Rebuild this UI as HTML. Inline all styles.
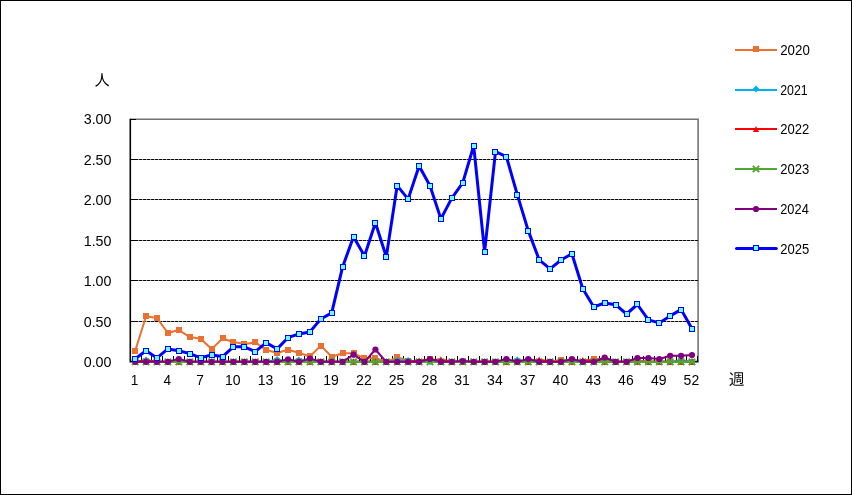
<!DOCTYPE html>
<html lang="ja"><head><meta charset="utf-8"><title>chart</title>
<style>
html,body{margin:0;padding:0;background:#fff;}
body{width:852px;height:495px;overflow:hidden;}
svg{display:block;}
.t{font-family:"Liberation Sans","IPAGothic",sans-serif;font-size:14.7px;fill:#000;}
.j{font-family:"Liberation Sans","IPAGothic",sans-serif;font-size:16px;fill:#000;}
</style></head><body>
<svg width="852" height="495" viewBox="0 0 852 495">
<rect x="0.5" y="0.5" width="851" height="494" fill="#fff" stroke="#000" stroke-width="1"/>
<path d="M130.3 119.15 H698.1 V361.6" fill="none" stroke="#717171" stroke-width="1.55"/>
<line x1="136.1" x2="697.9" y1="321.50" y2="321.50" stroke="#000" stroke-width="1" stroke-opacity="0.35"/>
<line x1="135.1" x2="697.9" y1="321.50" y2="321.50" stroke="#000" stroke-width="1" stroke-dasharray="3 1"/>
<line x1="136.1" x2="697.9" y1="280.50" y2="280.50" stroke="#000" stroke-width="1" stroke-opacity="0.35"/>
<line x1="135.1" x2="697.9" y1="280.50" y2="280.50" stroke="#000" stroke-width="1" stroke-dasharray="3 1"/>
<line x1="136.1" x2="697.9" y1="240.50" y2="240.50" stroke="#000" stroke-width="1" stroke-opacity="0.35"/>
<line x1="135.1" x2="697.9" y1="240.50" y2="240.50" stroke="#000" stroke-width="1" stroke-dasharray="3 1"/>
<line x1="136.1" x2="697.9" y1="199.50" y2="199.50" stroke="#000" stroke-width="1" stroke-opacity="0.35"/>
<line x1="135.1" x2="697.9" y1="199.50" y2="199.50" stroke="#000" stroke-width="1" stroke-dasharray="3 1"/>
<line x1="136.1" x2="697.9" y1="159.50" y2="159.50" stroke="#000" stroke-width="1" stroke-opacity="0.35"/>
<line x1="135.1" x2="697.9" y1="159.50" y2="159.50" stroke="#000" stroke-width="1" stroke-dasharray="3 1"/>
<path d="M130.3 118.8 V361.6 H698.6" fill="none" stroke="#000" stroke-width="1.6"/>
<line x1="130.1" x2="136.0" y1="361.50" y2="361.50" stroke="#000" stroke-width="1"/>
<line x1="130.1" x2="136.0" y1="321.50" y2="321.50" stroke="#000" stroke-width="1"/>
<line x1="130.1" x2="136.0" y1="280.50" y2="280.50" stroke="#000" stroke-width="1"/>
<line x1="130.1" x2="136.0" y1="240.50" y2="240.50" stroke="#000" stroke-width="1"/>
<line x1="130.1" x2="136.0" y1="199.50" y2="199.50" stroke="#000" stroke-width="1"/>
<line x1="130.1" x2="136.0" y1="159.50" y2="159.50" stroke="#000" stroke-width="1"/>
<line x1="130.1" x2="136.0" y1="119.50" y2="119.50" stroke="#000" stroke-width="1"/>
<line x1="130.50" x2="130.50" y1="361.5" y2="356" stroke="#000" stroke-width="1"/>
<line x1="141.50" x2="141.50" y1="361.5" y2="356" stroke="#000" stroke-width="1"/>
<line x1="151.50" x2="151.50" y1="361.5" y2="356" stroke="#000" stroke-width="1"/>
<line x1="162.50" x2="162.50" y1="361.5" y2="356" stroke="#000" stroke-width="1"/>
<line x1="173.50" x2="173.50" y1="361.5" y2="356" stroke="#000" stroke-width="1"/>
<line x1="184.50" x2="184.50" y1="361.5" y2="356" stroke="#000" stroke-width="1"/>
<line x1="195.50" x2="195.50" y1="361.5" y2="356" stroke="#000" stroke-width="1"/>
<line x1="206.50" x2="206.50" y1="361.5" y2="356" stroke="#000" stroke-width="1"/>
<line x1="217.50" x2="217.50" y1="361.5" y2="356" stroke="#000" stroke-width="1"/>
<line x1="228.50" x2="228.50" y1="361.5" y2="356" stroke="#000" stroke-width="1"/>
<line x1="239.50" x2="239.50" y1="361.5" y2="356" stroke="#000" stroke-width="1"/>
<line x1="250.50" x2="250.50" y1="361.5" y2="356" stroke="#000" stroke-width="1"/>
<line x1="261.50" x2="261.50" y1="361.5" y2="356" stroke="#000" stroke-width="1"/>
<line x1="272.50" x2="272.50" y1="361.5" y2="356" stroke="#000" stroke-width="1"/>
<line x1="282.50" x2="282.50" y1="361.5" y2="356" stroke="#000" stroke-width="1"/>
<line x1="293.50" x2="293.50" y1="361.5" y2="356" stroke="#000" stroke-width="1"/>
<line x1="304.50" x2="304.50" y1="361.5" y2="356" stroke="#000" stroke-width="1"/>
<line x1="315.50" x2="315.50" y1="361.5" y2="356" stroke="#000" stroke-width="1"/>
<line x1="326.50" x2="326.50" y1="361.5" y2="356" stroke="#000" stroke-width="1"/>
<line x1="337.50" x2="337.50" y1="361.5" y2="356" stroke="#000" stroke-width="1"/>
<line x1="348.50" x2="348.50" y1="361.5" y2="356" stroke="#000" stroke-width="1"/>
<line x1="359.50" x2="359.50" y1="361.5" y2="356" stroke="#000" stroke-width="1"/>
<line x1="370.50" x2="370.50" y1="361.5" y2="356" stroke="#000" stroke-width="1"/>
<line x1="381.50" x2="381.50" y1="361.5" y2="356" stroke="#000" stroke-width="1"/>
<line x1="392.50" x2="392.50" y1="361.5" y2="356" stroke="#000" stroke-width="1"/>
<line x1="403.50" x2="403.50" y1="361.5" y2="356" stroke="#000" stroke-width="1"/>
<line x1="414.50" x2="414.50" y1="361.5" y2="356" stroke="#000" stroke-width="1"/>
<line x1="424.50" x2="424.50" y1="361.5" y2="356" stroke="#000" stroke-width="1"/>
<line x1="435.50" x2="435.50" y1="361.5" y2="356" stroke="#000" stroke-width="1"/>
<line x1="446.50" x2="446.50" y1="361.5" y2="356" stroke="#000" stroke-width="1"/>
<line x1="457.50" x2="457.50" y1="361.5" y2="356" stroke="#000" stroke-width="1"/>
<line x1="468.50" x2="468.50" y1="361.5" y2="356" stroke="#000" stroke-width="1"/>
<line x1="479.50" x2="479.50" y1="361.5" y2="356" stroke="#000" stroke-width="1"/>
<line x1="490.50" x2="490.50" y1="361.5" y2="356" stroke="#000" stroke-width="1"/>
<line x1="501.50" x2="501.50" y1="361.5" y2="356" stroke="#000" stroke-width="1"/>
<line x1="512.50" x2="512.50" y1="361.5" y2="356" stroke="#000" stroke-width="1"/>
<line x1="523.50" x2="523.50" y1="361.5" y2="356" stroke="#000" stroke-width="1"/>
<line x1="534.50" x2="534.50" y1="361.5" y2="356" stroke="#000" stroke-width="1"/>
<line x1="545.50" x2="545.50" y1="361.5" y2="356" stroke="#000" stroke-width="1"/>
<line x1="555.50" x2="555.50" y1="361.5" y2="356" stroke="#000" stroke-width="1"/>
<line x1="566.50" x2="566.50" y1="361.5" y2="356" stroke="#000" stroke-width="1"/>
<line x1="577.50" x2="577.50" y1="361.5" y2="356" stroke="#000" stroke-width="1"/>
<line x1="588.50" x2="588.50" y1="361.5" y2="356" stroke="#000" stroke-width="1"/>
<line x1="599.50" x2="599.50" y1="361.5" y2="356" stroke="#000" stroke-width="1"/>
<line x1="610.50" x2="610.50" y1="361.5" y2="356" stroke="#000" stroke-width="1"/>
<line x1="621.50" x2="621.50" y1="361.5" y2="356" stroke="#000" stroke-width="1"/>
<line x1="632.50" x2="632.50" y1="361.5" y2="356" stroke="#000" stroke-width="1"/>
<line x1="643.50" x2="643.50" y1="361.5" y2="356" stroke="#000" stroke-width="1"/>
<line x1="654.50" x2="654.50" y1="361.5" y2="356" stroke="#000" stroke-width="1"/>
<line x1="665.50" x2="665.50" y1="361.5" y2="356" stroke="#000" stroke-width="1"/>
<line x1="676.50" x2="676.50" y1="361.5" y2="356" stroke="#000" stroke-width="1"/>
<line x1="686.50" x2="686.50" y1="361.5" y2="356" stroke="#000" stroke-width="1"/>
<line x1="697.50" x2="697.50" y1="361.5" y2="356" stroke="#000" stroke-width="1"/>
<polyline points="135.2,350.8 146.1,316.2 157.0,318.1 167.9,333.0 178.8,330.0 189.8,337.1 200.7,338.8 211.6,349.1 222.5,338.5 233.4,342.0 244.4,344.0 255.3,342.4 266.2,349.8 277.1,353.0 288.0,349.8 298.9,352.7 309.9,356.5 320.8,345.6 331.7,356.7 342.6,353.3 353.5,353.3 364.5,358.2 375.4,358.2 386.3,361.8 397.2,357.3 408.1,360.6 419.1,361.8 430.0,358.8 440.9,361.8 451.8,361.8 462.7,361.8 473.7,361.8 484.6,361.8 495.5,361.8 506.4,361.8 517.3,361.8 528.3,361.8 539.2,361.8 550.1,361.8 561.0,360.0 571.9,360.3 582.8,361.8 593.8,358.6 604.7,360.0 615.6,361.8 626.5,361.8 637.4,360.6 648.4,361.8 659.3,361.8 670.2,361.8 681.1,361.8 692.0,361.8" fill="none" stroke="#e97132" stroke-width="2" stroke-linejoin="round" stroke-linecap="round"/>
<rect x="132.0" y="348.0" width="6" height="6" fill="#e97132"/><rect x="143.0" y="313.0" width="6" height="6" fill="#e97132"/><rect x="154.0" y="315.0" width="6" height="6" fill="#e97132"/><rect x="165.0" y="330.0" width="6" height="6" fill="#e97132"/><rect x="176.0" y="327.0" width="6" height="6" fill="#e97132"/><rect x="187.0" y="334.0" width="6" height="6" fill="#e97132"/><rect x="198.0" y="336.0" width="6" height="6" fill="#e97132"/><rect x="209.0" y="346.0" width="6" height="6" fill="#e97132"/><rect x="220.0" y="335.0" width="6" height="6" fill="#e97132"/><rect x="230.0" y="339.0" width="6" height="6" fill="#e97132"/><rect x="241.0" y="341.0" width="6" height="6" fill="#e97132"/><rect x="252.0" y="339.0" width="6" height="6" fill="#e97132"/><rect x="263.0" y="347.0" width="6" height="6" fill="#e97132"/><rect x="274.0" y="350.0" width="6" height="6" fill="#e97132"/><rect x="285.0" y="347.0" width="6" height="6" fill="#e97132"/><rect x="296.0" y="350.0" width="6" height="6" fill="#e97132"/><rect x="307.0" y="353.0" width="6" height="6" fill="#e97132"/><rect x="318.0" y="343.0" width="6" height="6" fill="#e97132"/><rect x="329.0" y="354.0" width="6" height="6" fill="#e97132"/><rect x="340.0" y="350.0" width="6" height="6" fill="#e97132"/><rect x="351.0" y="350.0" width="6" height="6" fill="#e97132"/><rect x="361.0" y="355.0" width="6" height="6" fill="#e97132"/><rect x="372.0" y="355.0" width="6" height="6" fill="#e97132"/><rect x="383.0" y="359.0" width="6" height="6" fill="#e97132"/><rect x="394.0" y="354.0" width="6" height="6" fill="#e97132"/><rect x="405.0" y="358.0" width="6" height="6" fill="#e97132"/><rect x="416.0" y="359.0" width="6" height="6" fill="#e97132"/><rect x="427.0" y="356.0" width="6" height="6" fill="#e97132"/><rect x="438.0" y="359.0" width="6" height="6" fill="#e97132"/><rect x="449.0" y="359.0" width="6" height="6" fill="#e97132"/><rect x="460.0" y="359.0" width="6" height="6" fill="#e97132"/><rect x="471.0" y="359.0" width="6" height="6" fill="#e97132"/><rect x="482.0" y="359.0" width="6" height="6" fill="#e97132"/><rect x="492.0" y="359.0" width="6" height="6" fill="#e97132"/><rect x="503.0" y="359.0" width="6" height="6" fill="#e97132"/><rect x="514.0" y="359.0" width="6" height="6" fill="#e97132"/><rect x="525.0" y="359.0" width="6" height="6" fill="#e97132"/><rect x="536.0" y="359.0" width="6" height="6" fill="#e97132"/><rect x="547.0" y="359.0" width="6" height="6" fill="#e97132"/><rect x="558.0" y="357.0" width="6" height="6" fill="#e97132"/><rect x="569.0" y="357.0" width="6" height="6" fill="#e97132"/><rect x="580.0" y="359.0" width="6" height="6" fill="#e97132"/><rect x="591.0" y="356.0" width="6" height="6" fill="#e97132"/><rect x="602.0" y="357.0" width="6" height="6" fill="#e97132"/><rect x="613.0" y="359.0" width="6" height="6" fill="#e97132"/><rect x="624.0" y="359.0" width="6" height="6" fill="#e97132"/><rect x="634.0" y="358.0" width="6" height="6" fill="#e97132"/><rect x="645.0" y="359.0" width="6" height="6" fill="#e97132"/><rect x="656.0" y="359.0" width="6" height="6" fill="#e97132"/><rect x="667.0" y="359.0" width="6" height="6" fill="#e97132"/><rect x="678.0" y="359.0" width="6" height="6" fill="#e97132"/><rect x="689.0" y="359.0" width="6" height="6" fill="#e97132"/>
<polyline points="135.2,361.9 146.1,360.0 157.0,361.9 167.9,361.9 178.8,361.9 189.8,361.9 200.7,361.9 211.6,361.9 222.5,361.9 233.4,361.9 244.4,361.9 255.3,361.9 266.2,361.9 277.1,359.5 288.0,361.9 298.9,359.8 309.9,361.9 320.8,361.9 331.7,361.9 342.6,361.9 353.5,361.9 364.5,361.9 375.4,361.9 386.3,361.9 397.2,360.2 408.1,360.4 419.1,361.9 430.0,361.9 440.9,361.9 451.8,361.9 462.7,361.9 473.7,361.9 484.6,361.9 495.5,361.9 506.4,361.9 517.3,359.8 528.3,361.9 539.2,361.9 550.1,361.9 561.0,361.9 571.9,361.9 582.8,361.9 593.8,361.9 604.7,361.9 615.6,361.9 626.5,361.9 637.4,361.9 648.4,361.9 659.3,361.9 670.2,361.9 681.1,360.5 692.0,361.9" fill="none" stroke="#00b0f0" stroke-width="2" stroke-linejoin="round" stroke-linecap="round"/>
<path d="M135.2 358.5 L138.6 361.9 L135.2 365.3 L131.8 361.9Z" fill="#00b0f0"/><path d="M146.1 356.6 L149.5 360.0 L146.1 363.4 L142.7 360.0Z" fill="#00b0f0"/><path d="M157.0 358.5 L160.4 361.9 L157.0 365.3 L153.6 361.9Z" fill="#00b0f0"/><path d="M167.9 358.5 L171.3 361.9 L167.9 365.3 L164.5 361.9Z" fill="#00b0f0"/><path d="M178.8 358.5 L182.2 361.9 L178.8 365.3 L175.4 361.9Z" fill="#00b0f0"/><path d="M189.8 358.5 L193.2 361.9 L189.8 365.3 L186.4 361.9Z" fill="#00b0f0"/><path d="M200.7 358.5 L204.1 361.9 L200.7 365.3 L197.3 361.9Z" fill="#00b0f0"/><path d="M211.6 358.5 L215.0 361.9 L211.6 365.3 L208.2 361.9Z" fill="#00b0f0"/><path d="M222.5 358.5 L225.9 361.9 L222.5 365.3 L219.1 361.9Z" fill="#00b0f0"/><path d="M233.4 358.5 L236.8 361.9 L233.4 365.3 L230.0 361.9Z" fill="#00b0f0"/><path d="M244.4 358.5 L247.8 361.9 L244.4 365.3 L241.0 361.9Z" fill="#00b0f0"/><path d="M255.3 358.5 L258.7 361.9 L255.3 365.3 L251.9 361.9Z" fill="#00b0f0"/><path d="M266.2 358.5 L269.6 361.9 L266.2 365.3 L262.8 361.9Z" fill="#00b0f0"/><path d="M277.1 356.1 L280.5 359.5 L277.1 362.9 L273.7 359.5Z" fill="#00b0f0"/><path d="M288.0 358.5 L291.4 361.9 L288.0 365.3 L284.6 361.9Z" fill="#00b0f0"/><path d="M298.9 356.4 L302.3 359.8 L298.9 363.2 L295.5 359.8Z" fill="#00b0f0"/><path d="M309.9 358.5 L313.3 361.9 L309.9 365.3 L306.5 361.9Z" fill="#00b0f0"/><path d="M320.8 358.5 L324.2 361.9 L320.8 365.3 L317.4 361.9Z" fill="#00b0f0"/><path d="M331.7 358.5 L335.1 361.9 L331.7 365.3 L328.3 361.9Z" fill="#00b0f0"/><path d="M342.6 358.5 L346.0 361.9 L342.6 365.3 L339.2 361.9Z" fill="#00b0f0"/><path d="M353.5 358.5 L356.9 361.9 L353.5 365.3 L350.1 361.9Z" fill="#00b0f0"/><path d="M364.5 358.5 L367.9 361.9 L364.5 365.3 L361.1 361.9Z" fill="#00b0f0"/><path d="M375.4 358.5 L378.8 361.9 L375.4 365.3 L372.0 361.9Z" fill="#00b0f0"/><path d="M386.3 358.5 L389.7 361.9 L386.3 365.3 L382.9 361.9Z" fill="#00b0f0"/><path d="M397.2 356.8 L400.6 360.2 L397.2 363.6 L393.8 360.2Z" fill="#00b0f0"/><path d="M408.1 357.0 L411.5 360.4 L408.1 363.8 L404.7 360.4Z" fill="#00b0f0"/><path d="M419.1 358.5 L422.5 361.9 L419.1 365.3 L415.7 361.9Z" fill="#00b0f0"/><path d="M430.0 358.5 L433.4 361.9 L430.0 365.3 L426.6 361.9Z" fill="#00b0f0"/><path d="M440.9 358.5 L444.3 361.9 L440.9 365.3 L437.5 361.9Z" fill="#00b0f0"/><path d="M451.8 358.5 L455.2 361.9 L451.8 365.3 L448.4 361.9Z" fill="#00b0f0"/><path d="M462.7 358.5 L466.1 361.9 L462.7 365.3 L459.3 361.9Z" fill="#00b0f0"/><path d="M473.7 358.5 L477.1 361.9 L473.7 365.3 L470.3 361.9Z" fill="#00b0f0"/><path d="M484.6 358.5 L488.0 361.9 L484.6 365.3 L481.2 361.9Z" fill="#00b0f0"/><path d="M495.5 358.5 L498.9 361.9 L495.5 365.3 L492.1 361.9Z" fill="#00b0f0"/><path d="M506.4 358.5 L509.8 361.9 L506.4 365.3 L503.0 361.9Z" fill="#00b0f0"/><path d="M517.3 356.4 L520.7 359.8 L517.3 363.2 L513.9 359.8Z" fill="#00b0f0"/><path d="M528.3 358.5 L531.7 361.9 L528.3 365.3 L524.9 361.9Z" fill="#00b0f0"/><path d="M539.2 358.5 L542.6 361.9 L539.2 365.3 L535.8 361.9Z" fill="#00b0f0"/><path d="M550.1 358.5 L553.5 361.9 L550.1 365.3 L546.7 361.9Z" fill="#00b0f0"/><path d="M561.0 358.5 L564.4 361.9 L561.0 365.3 L557.6 361.9Z" fill="#00b0f0"/><path d="M571.9 358.5 L575.3 361.9 L571.9 365.3 L568.5 361.9Z" fill="#00b0f0"/><path d="M582.8 358.5 L586.2 361.9 L582.8 365.3 L579.4 361.9Z" fill="#00b0f0"/><path d="M593.8 358.5 L597.2 361.9 L593.8 365.3 L590.4 361.9Z" fill="#00b0f0"/><path d="M604.7 358.5 L608.1 361.9 L604.7 365.3 L601.3 361.9Z" fill="#00b0f0"/><path d="M615.6 358.5 L619.0 361.9 L615.6 365.3 L612.2 361.9Z" fill="#00b0f0"/><path d="M626.5 358.5 L629.9 361.9 L626.5 365.3 L623.1 361.9Z" fill="#00b0f0"/><path d="M637.4 358.5 L640.8 361.9 L637.4 365.3 L634.0 361.9Z" fill="#00b0f0"/><path d="M648.4 358.5 L651.8 361.9 L648.4 365.3 L645.0 361.9Z" fill="#00b0f0"/><path d="M659.3 358.5 L662.7 361.9 L659.3 365.3 L655.9 361.9Z" fill="#00b0f0"/><path d="M670.2 358.5 L673.6 361.9 L670.2 365.3 L666.8 361.9Z" fill="#00b0f0"/><path d="M681.1 357.1 L684.5 360.5 L681.1 363.9 L677.7 360.5Z" fill="#00b0f0"/><path d="M692.0 358.5 L695.4 361.9 L692.0 365.3 L688.6 361.9Z" fill="#00b0f0"/>
<polyline points="135.2,361.7 146.1,360.6 157.0,361.7 167.9,361.7 178.8,361.7 189.8,361.7 200.7,361.7 211.6,361.7 222.5,361.7 233.4,361.7 244.4,361.7 255.3,361.7 266.2,361.7 277.1,361.7 288.0,361.7 298.9,361.7 309.9,361.7 320.8,361.7 331.7,361.7 342.6,361.7 353.5,361.7 364.5,361.7 375.4,361.7 386.3,361.7 397.2,361.7 408.1,361.7 419.1,360.6 430.0,360.0 440.9,359.4 451.8,361.7 462.7,361.7 473.7,361.7 484.6,361.7 495.5,361.7 506.4,361.7 517.3,361.7 528.3,361.7 539.2,359.6 550.1,361.7 561.0,361.7 571.9,361.7 582.8,360.0 593.8,360.8 604.7,361.7 615.6,361.7 626.5,361.7 637.4,361.7 648.4,361.7 659.3,361.7 670.2,361.7 681.1,361.7 692.0,361.7" fill="none" stroke="#ff0000" stroke-width="2" stroke-linejoin="round" stroke-linecap="round"/>
<path d="M135.2 358.6 L138.3 364.8 L132.1 364.8Z" fill="#ff0000"/><path d="M146.1 357.5 L149.2 363.7 L143.0 363.7Z" fill="#ff0000"/><path d="M157.0 358.6 L160.1 364.8 L153.9 364.8Z" fill="#ff0000"/><path d="M167.9 358.6 L171.0 364.8 L164.8 364.8Z" fill="#ff0000"/><path d="M178.8 358.6 L181.9 364.8 L175.7 364.8Z" fill="#ff0000"/><path d="M189.8 358.6 L192.9 364.8 L186.7 364.8Z" fill="#ff0000"/><path d="M200.7 358.6 L203.8 364.8 L197.6 364.8Z" fill="#ff0000"/><path d="M211.6 358.6 L214.7 364.8 L208.5 364.8Z" fill="#ff0000"/><path d="M222.5 358.6 L225.6 364.8 L219.4 364.8Z" fill="#ff0000"/><path d="M233.4 358.6 L236.5 364.8 L230.3 364.8Z" fill="#ff0000"/><path d="M244.4 358.6 L247.5 364.8 L241.3 364.8Z" fill="#ff0000"/><path d="M255.3 358.6 L258.4 364.8 L252.2 364.8Z" fill="#ff0000"/><path d="M266.2 358.6 L269.3 364.8 L263.1 364.8Z" fill="#ff0000"/><path d="M277.1 358.6 L280.2 364.8 L274.0 364.8Z" fill="#ff0000"/><path d="M288.0 358.6 L291.1 364.8 L284.9 364.8Z" fill="#ff0000"/><path d="M298.9 358.6 L302.0 364.8 L295.8 364.8Z" fill="#ff0000"/><path d="M309.9 358.6 L313.0 364.8 L306.8 364.8Z" fill="#ff0000"/><path d="M320.8 358.6 L323.9 364.8 L317.7 364.8Z" fill="#ff0000"/><path d="M331.7 358.6 L334.8 364.8 L328.6 364.8Z" fill="#ff0000"/><path d="M342.6 358.6 L345.7 364.8 L339.5 364.8Z" fill="#ff0000"/><path d="M353.5 358.6 L356.6 364.8 L350.4 364.8Z" fill="#ff0000"/><path d="M364.5 358.6 L367.6 364.8 L361.4 364.8Z" fill="#ff0000"/><path d="M375.4 358.6 L378.5 364.8 L372.3 364.8Z" fill="#ff0000"/><path d="M386.3 358.6 L389.4 364.8 L383.2 364.8Z" fill="#ff0000"/><path d="M397.2 358.6 L400.3 364.8 L394.1 364.8Z" fill="#ff0000"/><path d="M408.1 358.6 L411.2 364.8 L405.0 364.8Z" fill="#ff0000"/><path d="M419.1 357.5 L422.2 363.7 L416.0 363.7Z" fill="#ff0000"/><path d="M430.0 356.9 L433.1 363.1 L426.9 363.1Z" fill="#ff0000"/><path d="M440.9 356.3 L444.0 362.5 L437.8 362.5Z" fill="#ff0000"/><path d="M451.8 358.6 L454.9 364.8 L448.7 364.8Z" fill="#ff0000"/><path d="M462.7 358.6 L465.8 364.8 L459.6 364.8Z" fill="#ff0000"/><path d="M473.7 358.6 L476.8 364.8 L470.6 364.8Z" fill="#ff0000"/><path d="M484.6 358.6 L487.7 364.8 L481.5 364.8Z" fill="#ff0000"/><path d="M495.5 358.6 L498.6 364.8 L492.4 364.8Z" fill="#ff0000"/><path d="M506.4 358.6 L509.5 364.8 L503.3 364.8Z" fill="#ff0000"/><path d="M517.3 358.6 L520.4 364.8 L514.2 364.8Z" fill="#ff0000"/><path d="M528.3 358.6 L531.4 364.8 L525.2 364.8Z" fill="#ff0000"/><path d="M539.2 356.5 L542.3 362.7 L536.1 362.7Z" fill="#ff0000"/><path d="M550.1 358.6 L553.2 364.8 L547.0 364.8Z" fill="#ff0000"/><path d="M561.0 358.6 L564.1 364.8 L557.9 364.8Z" fill="#ff0000"/><path d="M571.9 358.6 L575.0 364.8 L568.8 364.8Z" fill="#ff0000"/><path d="M582.8 356.9 L585.9 363.1 L579.7 363.1Z" fill="#ff0000"/><path d="M593.8 357.7 L596.9 363.9 L590.7 363.9Z" fill="#ff0000"/><path d="M604.7 358.6 L607.8 364.8 L601.6 364.8Z" fill="#ff0000"/><path d="M615.6 358.6 L618.7 364.8 L612.5 364.8Z" fill="#ff0000"/><path d="M626.5 358.6 L629.6 364.8 L623.4 364.8Z" fill="#ff0000"/><path d="M637.4 358.6 L640.5 364.8 L634.3 364.8Z" fill="#ff0000"/><path d="M648.4 358.6 L651.5 364.8 L645.3 364.8Z" fill="#ff0000"/><path d="M659.3 358.6 L662.4 364.8 L656.2 364.8Z" fill="#ff0000"/><path d="M670.2 358.6 L673.3 364.8 L667.1 364.8Z" fill="#ff0000"/><path d="M681.1 358.6 L684.2 364.8 L678.0 364.8Z" fill="#ff0000"/><path d="M692.0 358.6 L695.1 364.8 L688.9 364.8Z" fill="#ff0000"/>
<polyline points="135.2,361.9 146.1,361.9 157.0,361.9 167.9,361.9 178.8,361.9 189.8,361.9 200.7,361.9 211.6,361.9 222.5,361.9 233.4,361.9 244.4,361.9 255.3,361.9 266.2,361.9 277.1,361.9 288.0,361.9 298.9,361.9 309.9,361.9 320.8,361.9 331.7,361.9 342.6,361.9 353.5,361.9 364.5,361.9 375.4,361.9 386.3,361.9 397.2,361.9 408.1,361.9 419.1,361.9 430.0,361.9 440.9,361.9 451.8,361.9 462.7,361.9 473.7,361.9 484.6,361.9 495.5,361.9 506.4,361.9 517.3,361.9 528.3,361.9 539.2,361.9 550.1,361.9 561.0,361.9 571.9,361.9 582.8,361.9 593.8,361.9 604.7,361.9 615.6,361.9 626.5,361.9 637.4,361.9 648.4,361.9 659.3,361.9 670.2,361.9 681.1,361.9 692.0,361.9" fill="none" stroke="#4ea72e" stroke-width="2" stroke-linejoin="round" stroke-linecap="round"/>
<path d="M132.0 358.7 L138.4 365.1 M132.0 365.1 L138.4 358.7" stroke="#4ea72e" stroke-width="1.9" fill="none"/><path d="M142.9 358.7 L149.3 365.1 M142.9 365.1 L149.3 358.7" stroke="#4ea72e" stroke-width="1.9" fill="none"/><path d="M153.8 358.7 L160.2 365.1 M153.8 365.1 L160.2 358.7" stroke="#4ea72e" stroke-width="1.9" fill="none"/><path d="M164.7 358.7 L171.1 365.1 M164.7 365.1 L171.1 358.7" stroke="#4ea72e" stroke-width="1.9" fill="none"/><path d="M175.6 358.7 L182.0 365.1 M175.6 365.1 L182.0 358.7" stroke="#4ea72e" stroke-width="1.9" fill="none"/><path d="M186.6 358.7 L193.0 365.1 M186.6 365.1 L193.0 358.7" stroke="#4ea72e" stroke-width="1.9" fill="none"/><path d="M197.5 358.7 L203.9 365.1 M197.5 365.1 L203.9 358.7" stroke="#4ea72e" stroke-width="1.9" fill="none"/><path d="M208.4 358.7 L214.8 365.1 M208.4 365.1 L214.8 358.7" stroke="#4ea72e" stroke-width="1.9" fill="none"/><path d="M219.3 358.7 L225.7 365.1 M219.3 365.1 L225.7 358.7" stroke="#4ea72e" stroke-width="1.9" fill="none"/><path d="M230.2 358.7 L236.6 365.1 M230.2 365.1 L236.6 358.7" stroke="#4ea72e" stroke-width="1.9" fill="none"/><path d="M241.2 358.7 L247.6 365.1 M241.2 365.1 L247.6 358.7" stroke="#4ea72e" stroke-width="1.9" fill="none"/><path d="M252.1 358.7 L258.5 365.1 M252.1 365.1 L258.5 358.7" stroke="#4ea72e" stroke-width="1.9" fill="none"/><path d="M263.0 358.7 L269.4 365.1 M263.0 365.1 L269.4 358.7" stroke="#4ea72e" stroke-width="1.9" fill="none"/><path d="M273.9 358.7 L280.3 365.1 M273.9 365.1 L280.3 358.7" stroke="#4ea72e" stroke-width="1.9" fill="none"/><path d="M284.8 358.7 L291.2 365.1 M284.8 365.1 L291.2 358.7" stroke="#4ea72e" stroke-width="1.9" fill="none"/><path d="M295.7 358.7 L302.1 365.1 M295.7 365.1 L302.1 358.7" stroke="#4ea72e" stroke-width="1.9" fill="none"/><path d="M306.7 358.7 L313.1 365.1 M306.7 365.1 L313.1 358.7" stroke="#4ea72e" stroke-width="1.9" fill="none"/><path d="M317.6 358.7 L324.0 365.1 M317.6 365.1 L324.0 358.7" stroke="#4ea72e" stroke-width="1.9" fill="none"/><path d="M328.5 358.7 L334.9 365.1 M328.5 365.1 L334.9 358.7" stroke="#4ea72e" stroke-width="1.9" fill="none"/><path d="M339.4 358.7 L345.8 365.1 M339.4 365.1 L345.8 358.7" stroke="#4ea72e" stroke-width="1.9" fill="none"/><path d="M350.3 358.7 L356.7 365.1 M350.3 365.1 L356.7 358.7" stroke="#4ea72e" stroke-width="1.9" fill="none"/><path d="M361.3 358.7 L367.7 365.1 M361.3 365.1 L367.7 358.7" stroke="#4ea72e" stroke-width="1.9" fill="none"/><path d="M372.2 358.7 L378.6 365.1 M372.2 365.1 L378.6 358.7" stroke="#4ea72e" stroke-width="1.9" fill="none"/><path d="M383.1 358.7 L389.5 365.1 M383.1 365.1 L389.5 358.7" stroke="#4ea72e" stroke-width="1.9" fill="none"/><path d="M394.0 358.7 L400.4 365.1 M394.0 365.1 L400.4 358.7" stroke="#4ea72e" stroke-width="1.9" fill="none"/><path d="M404.9 358.7 L411.3 365.1 M404.9 365.1 L411.3 358.7" stroke="#4ea72e" stroke-width="1.9" fill="none"/><path d="M415.9 358.7 L422.3 365.1 M415.9 365.1 L422.3 358.7" stroke="#4ea72e" stroke-width="1.9" fill="none"/><path d="M426.8 358.7 L433.2 365.1 M426.8 365.1 L433.2 358.7" stroke="#4ea72e" stroke-width="1.9" fill="none"/><path d="M437.7 358.7 L444.1 365.1 M437.7 365.1 L444.1 358.7" stroke="#4ea72e" stroke-width="1.9" fill="none"/><path d="M448.6 358.7 L455.0 365.1 M448.6 365.1 L455.0 358.7" stroke="#4ea72e" stroke-width="1.9" fill="none"/><path d="M459.5 358.7 L465.9 365.1 M459.5 365.1 L465.9 358.7" stroke="#4ea72e" stroke-width="1.9" fill="none"/><path d="M470.5 358.7 L476.9 365.1 M470.5 365.1 L476.9 358.7" stroke="#4ea72e" stroke-width="1.9" fill="none"/><path d="M481.4 358.7 L487.8 365.1 M481.4 365.1 L487.8 358.7" stroke="#4ea72e" stroke-width="1.9" fill="none"/><path d="M492.3 358.7 L498.7 365.1 M492.3 365.1 L498.7 358.7" stroke="#4ea72e" stroke-width="1.9" fill="none"/><path d="M503.2 358.7 L509.6 365.1 M503.2 365.1 L509.6 358.7" stroke="#4ea72e" stroke-width="1.9" fill="none"/><path d="M514.1 358.7 L520.5 365.1 M514.1 365.1 L520.5 358.7" stroke="#4ea72e" stroke-width="1.9" fill="none"/><path d="M525.1 358.7 L531.5 365.1 M525.1 365.1 L531.5 358.7" stroke="#4ea72e" stroke-width="1.9" fill="none"/><path d="M536.0 358.7 L542.4 365.1 M536.0 365.1 L542.4 358.7" stroke="#4ea72e" stroke-width="1.9" fill="none"/><path d="M546.9 358.7 L553.3 365.1 M546.9 365.1 L553.3 358.7" stroke="#4ea72e" stroke-width="1.9" fill="none"/><path d="M557.8 358.7 L564.2 365.1 M557.8 365.1 L564.2 358.7" stroke="#4ea72e" stroke-width="1.9" fill="none"/><path d="M568.7 358.7 L575.1 365.1 M568.7 365.1 L575.1 358.7" stroke="#4ea72e" stroke-width="1.9" fill="none"/><path d="M579.6 358.7 L586.0 365.1 M579.6 365.1 L586.0 358.7" stroke="#4ea72e" stroke-width="1.9" fill="none"/><path d="M590.6 358.7 L597.0 365.1 M590.6 365.1 L597.0 358.7" stroke="#4ea72e" stroke-width="1.9" fill="none"/><path d="M601.5 358.7 L607.9 365.1 M601.5 365.1 L607.9 358.7" stroke="#4ea72e" stroke-width="1.9" fill="none"/><path d="M612.4 358.7 L618.8 365.1 M612.4 365.1 L618.8 358.7" stroke="#4ea72e" stroke-width="1.9" fill="none"/><path d="M623.3 358.7 L629.7 365.1 M623.3 365.1 L629.7 358.7" stroke="#4ea72e" stroke-width="1.9" fill="none"/><path d="M634.2 358.7 L640.6 365.1 M634.2 365.1 L640.6 358.7" stroke="#4ea72e" stroke-width="1.9" fill="none"/><path d="M645.2 358.7 L651.6 365.1 M645.2 365.1 L651.6 358.7" stroke="#4ea72e" stroke-width="1.9" fill="none"/><path d="M656.1 358.7 L662.5 365.1 M656.1 365.1 L662.5 358.7" stroke="#4ea72e" stroke-width="1.9" fill="none"/><path d="M667.0 358.7 L673.4 365.1 M667.0 365.1 L673.4 358.7" stroke="#4ea72e" stroke-width="1.9" fill="none"/><path d="M677.9 358.7 L684.3 365.1 M677.9 365.1 L684.3 358.7" stroke="#4ea72e" stroke-width="1.9" fill="none"/><path d="M688.8 358.7 L695.2 365.1 M688.8 365.1 L695.2 358.7" stroke="#4ea72e" stroke-width="1.9" fill="none"/>
<polyline points="135.2,361.8 146.1,361.8 157.0,361.8 167.9,361.8 178.8,359.0 189.8,361.8 200.7,361.8 211.6,361.8 222.5,361.8 233.4,361.8 244.4,361.8 255.3,361.8 266.2,361.8 277.1,361.8 288.0,359.3 298.9,361.8 309.9,358.5 320.8,361.8 331.7,361.8 342.6,361.8 353.5,354.7 364.5,361.8 375.4,349.5 386.3,361.8 397.2,361.8 408.1,361.8 419.1,361.8 430.0,359.0 440.9,361.8 451.8,361.8 462.7,361.1 473.7,361.8 484.6,361.8 495.5,361.8 506.4,359.0 517.3,361.8 528.3,359.0 539.2,361.8 550.1,361.8 561.0,361.8 571.9,359.0 582.8,361.8 593.8,361.8 604.7,357.5 615.6,361.8 626.5,361.8 637.4,358.0 648.4,358.0 659.3,359.0 670.2,355.8 681.1,355.8 692.0,355.1" fill="none" stroke="#800080" stroke-width="2" stroke-linejoin="round" stroke-linecap="round"/>
<circle cx="135.2" cy="361.8" r="3.1" fill="#800080"/><circle cx="146.1" cy="361.8" r="3.1" fill="#800080"/><circle cx="157.0" cy="361.8" r="3.1" fill="#800080"/><circle cx="167.9" cy="361.8" r="3.1" fill="#800080"/><circle cx="178.8" cy="359.0" r="3.1" fill="#800080"/><circle cx="189.8" cy="361.8" r="3.1" fill="#800080"/><circle cx="200.7" cy="361.8" r="3.1" fill="#800080"/><circle cx="211.6" cy="361.8" r="3.1" fill="#800080"/><circle cx="222.5" cy="361.8" r="3.1" fill="#800080"/><circle cx="233.4" cy="361.8" r="3.1" fill="#800080"/><circle cx="244.4" cy="361.8" r="3.1" fill="#800080"/><circle cx="255.3" cy="361.8" r="3.1" fill="#800080"/><circle cx="266.2" cy="361.8" r="3.1" fill="#800080"/><circle cx="277.1" cy="361.8" r="3.1" fill="#800080"/><circle cx="288.0" cy="359.3" r="3.1" fill="#800080"/><circle cx="298.9" cy="361.8" r="3.1" fill="#800080"/><circle cx="309.9" cy="358.5" r="3.1" fill="#800080"/><circle cx="320.8" cy="361.8" r="3.1" fill="#800080"/><circle cx="331.7" cy="361.8" r="3.1" fill="#800080"/><circle cx="342.6" cy="361.8" r="3.1" fill="#800080"/><circle cx="353.5" cy="354.7" r="3.1" fill="#800080"/><circle cx="364.5" cy="361.8" r="3.1" fill="#800080"/><circle cx="375.4" cy="349.5" r="3.1" fill="#800080"/><circle cx="386.3" cy="361.8" r="3.1" fill="#800080"/><circle cx="397.2" cy="361.8" r="3.1" fill="#800080"/><circle cx="408.1" cy="361.8" r="3.1" fill="#800080"/><circle cx="419.1" cy="361.8" r="3.1" fill="#800080"/><circle cx="430.0" cy="359.0" r="3.1" fill="#800080"/><circle cx="440.9" cy="361.8" r="3.1" fill="#800080"/><circle cx="451.8" cy="361.8" r="3.1" fill="#800080"/><circle cx="462.7" cy="361.1" r="3.1" fill="#800080"/><circle cx="473.7" cy="361.8" r="3.1" fill="#800080"/><circle cx="484.6" cy="361.8" r="3.1" fill="#800080"/><circle cx="495.5" cy="361.8" r="3.1" fill="#800080"/><circle cx="506.4" cy="359.0" r="3.1" fill="#800080"/><circle cx="517.3" cy="361.8" r="3.1" fill="#800080"/><circle cx="528.3" cy="359.0" r="3.1" fill="#800080"/><circle cx="539.2" cy="361.8" r="3.1" fill="#800080"/><circle cx="550.1" cy="361.8" r="3.1" fill="#800080"/><circle cx="561.0" cy="361.8" r="3.1" fill="#800080"/><circle cx="571.9" cy="359.0" r="3.1" fill="#800080"/><circle cx="582.8" cy="361.8" r="3.1" fill="#800080"/><circle cx="593.8" cy="361.8" r="3.1" fill="#800080"/><circle cx="604.7" cy="357.5" r="3.1" fill="#800080"/><circle cx="615.6" cy="361.8" r="3.1" fill="#800080"/><circle cx="626.5" cy="361.8" r="3.1" fill="#800080"/><circle cx="637.4" cy="358.0" r="3.1" fill="#800080"/><circle cx="648.4" cy="358.0" r="3.1" fill="#800080"/><circle cx="659.3" cy="359.0" r="3.1" fill="#800080"/><circle cx="670.2" cy="355.8" r="3.1" fill="#800080"/><circle cx="681.1" cy="355.8" r="3.1" fill="#800080"/><circle cx="692.0" cy="355.1" r="3.1" fill="#800080"/>
<polyline points="135.2,358.8 146.1,350.7 157.0,357.9 167.9,348.9 178.8,350.8 189.8,353.6 200.7,357.8 211.6,354.9 222.5,356.6 233.4,346.8 244.4,346.8 255.3,351.7 266.2,342.7 277.1,348.9 288.0,337.7 298.9,333.9 309.9,331.9 320.8,319.0 331.7,312.9 342.6,266.9 353.5,236.8 364.5,256.0 375.4,222.8 386.3,256.8 397.2,185.6 408.1,199.1 419.1,166.0 430.0,185.8 440.9,218.9 451.8,198.1 462.7,182.9 473.7,145.8 484.6,251.7 495.5,151.6 506.4,156.7 517.3,194.7 528.3,230.9 539.2,259.8 550.1,268.9 561.0,260.0 571.9,253.8 582.8,288.8 593.8,307.0 604.7,302.9 615.6,304.7 626.5,314.0 637.4,304.5 648.4,319.9 659.3,322.9 670.2,315.9 681.1,309.6 692.0,328.8" fill="none" stroke="#0000ff" stroke-width="3" stroke-linejoin="round" stroke-linecap="round"/>
<rect x="132.5" y="356.5" width="5" height="5" fill="#66ffff" stroke="#0000ff" stroke-width="1"/><rect x="143.5" y="348.5" width="5" height="5" fill="#66ffff" stroke="#0000ff" stroke-width="1"/><rect x="154.5" y="355.5" width="5" height="5" fill="#66ffff" stroke="#0000ff" stroke-width="1"/><rect x="165.5" y="346.5" width="5" height="5" fill="#66ffff" stroke="#0000ff" stroke-width="1"/><rect x="176.5" y="348.5" width="5" height="5" fill="#66ffff" stroke="#0000ff" stroke-width="1"/><rect x="187.5" y="351.5" width="5" height="5" fill="#66ffff" stroke="#0000ff" stroke-width="1"/><rect x="198.5" y="355.5" width="5" height="5" fill="#66ffff" stroke="#0000ff" stroke-width="1"/><rect x="209.5" y="352.5" width="5" height="5" fill="#66ffff" stroke="#0000ff" stroke-width="1"/><rect x="220.5" y="354.5" width="5" height="5" fill="#66ffff" stroke="#0000ff" stroke-width="1"/><rect x="230.5" y="344.5" width="5" height="5" fill="#66ffff" stroke="#0000ff" stroke-width="1"/><rect x="241.5" y="344.5" width="5" height="5" fill="#66ffff" stroke="#0000ff" stroke-width="1"/><rect x="252.5" y="349.5" width="5" height="5" fill="#66ffff" stroke="#0000ff" stroke-width="1"/><rect x="263.5" y="340.5" width="5" height="5" fill="#66ffff" stroke="#0000ff" stroke-width="1"/><rect x="274.5" y="346.5" width="5" height="5" fill="#66ffff" stroke="#0000ff" stroke-width="1"/><rect x="285.5" y="335.5" width="5" height="5" fill="#66ffff" stroke="#0000ff" stroke-width="1"/><rect x="296.5" y="331.5" width="5" height="5" fill="#66ffff" stroke="#0000ff" stroke-width="1"/><rect x="307.5" y="329.5" width="5" height="5" fill="#66ffff" stroke="#0000ff" stroke-width="1"/><rect x="318.5" y="316.5" width="5" height="5" fill="#66ffff" stroke="#0000ff" stroke-width="1"/><rect x="329.5" y="310.5" width="5" height="5" fill="#66ffff" stroke="#0000ff" stroke-width="1"/><rect x="340.5" y="264.5" width="5" height="5" fill="#66ffff" stroke="#0000ff" stroke-width="1"/><rect x="351.5" y="234.5" width="5" height="5" fill="#66ffff" stroke="#0000ff" stroke-width="1"/><rect x="361.5" y="253.5" width="5" height="5" fill="#66ffff" stroke="#0000ff" stroke-width="1"/><rect x="372.5" y="220.5" width="5" height="5" fill="#66ffff" stroke="#0000ff" stroke-width="1"/><rect x="383.5" y="254.5" width="5" height="5" fill="#66ffff" stroke="#0000ff" stroke-width="1"/><rect x="394.5" y="183.5" width="5" height="5" fill="#66ffff" stroke="#0000ff" stroke-width="1"/><rect x="405.5" y="196.5" width="5" height="5" fill="#66ffff" stroke="#0000ff" stroke-width="1"/><rect x="416.5" y="163.5" width="5" height="5" fill="#66ffff" stroke="#0000ff" stroke-width="1"/><rect x="427.5" y="183.5" width="5" height="5" fill="#66ffff" stroke="#0000ff" stroke-width="1"/><rect x="438.5" y="216.5" width="5" height="5" fill="#66ffff" stroke="#0000ff" stroke-width="1"/><rect x="449.5" y="195.5" width="5" height="5" fill="#66ffff" stroke="#0000ff" stroke-width="1"/><rect x="460.5" y="180.5" width="5" height="5" fill="#66ffff" stroke="#0000ff" stroke-width="1"/><rect x="471.5" y="143.5" width="5" height="5" fill="#66ffff" stroke="#0000ff" stroke-width="1"/><rect x="482.5" y="249.5" width="5" height="5" fill="#66ffff" stroke="#0000ff" stroke-width="1"/><rect x="492.5" y="149.5" width="5" height="5" fill="#66ffff" stroke="#0000ff" stroke-width="1"/><rect x="503.5" y="154.5" width="5" height="5" fill="#66ffff" stroke="#0000ff" stroke-width="1"/><rect x="514.5" y="192.5" width="5" height="5" fill="#66ffff" stroke="#0000ff" stroke-width="1"/><rect x="525.5" y="228.5" width="5" height="5" fill="#66ffff" stroke="#0000ff" stroke-width="1"/><rect x="536.5" y="257.5" width="5" height="5" fill="#66ffff" stroke="#0000ff" stroke-width="1"/><rect x="547.5" y="266.5" width="5" height="5" fill="#66ffff" stroke="#0000ff" stroke-width="1"/><rect x="558.5" y="257.5" width="5" height="5" fill="#66ffff" stroke="#0000ff" stroke-width="1"/><rect x="569.5" y="251.5" width="5" height="5" fill="#66ffff" stroke="#0000ff" stroke-width="1"/><rect x="580.5" y="286.5" width="5" height="5" fill="#66ffff" stroke="#0000ff" stroke-width="1"/><rect x="591.5" y="304.5" width="5" height="5" fill="#66ffff" stroke="#0000ff" stroke-width="1"/><rect x="602.5" y="300.5" width="5" height="5" fill="#66ffff" stroke="#0000ff" stroke-width="1"/><rect x="613.5" y="302.5" width="5" height="5" fill="#66ffff" stroke="#0000ff" stroke-width="1"/><rect x="624.5" y="311.5" width="5" height="5" fill="#66ffff" stroke="#0000ff" stroke-width="1"/><rect x="634.5" y="301.5" width="5" height="5" fill="#66ffff" stroke="#0000ff" stroke-width="1"/><rect x="645.5" y="317.5" width="5" height="5" fill="#66ffff" stroke="#0000ff" stroke-width="1"/><rect x="656.5" y="320.5" width="5" height="5" fill="#66ffff" stroke="#0000ff" stroke-width="1"/><rect x="667.5" y="313.5" width="5" height="5" fill="#66ffff" stroke="#0000ff" stroke-width="1"/><rect x="678.5" y="307.5" width="5" height="5" fill="#66ffff" stroke="#0000ff" stroke-width="1"/><rect x="689.5" y="326.5" width="5" height="5" fill="#66ffff" stroke="#0000ff" stroke-width="1"/>
<line x1="735" x2="777" y1="50" y2="50" stroke="#e97132" stroke-width="2"/>
<rect x="753.0" y="46.0" width="6" height="6" fill="#e97132"/>
<text x="780.2" y="55" class="t" textLength="29.6" lengthAdjust="spacingAndGlyphs">2020</text>
<line x1="735" x2="777" y1="90" y2="90" stroke="#00b0f0" stroke-width="2"/>
<path d="M756.0 85.6 L759.4 89.0 L756.0 92.4 L752.6 89.0Z" fill="#00b0f0"/>
<text x="780.2" y="95" class="t" textLength="27.5" lengthAdjust="spacingAndGlyphs">2021</text>
<line x1="735" x2="777" y1="129" y2="129" stroke="#ff0000" stroke-width="2"/>
<path d="M756.0 125.9 L759.1 132.1 L752.9 132.1Z" fill="#ff0000"/>
<text x="780.2" y="134" class="t" textLength="29.0" lengthAdjust="spacingAndGlyphs">2022</text>
<line x1="735" x2="777" y1="169" y2="169" stroke="#4ea72e" stroke-width="2"/>
<path d="M752.8 165.8 L759.2 172.2 M752.8 172.2 L759.2 165.8" stroke="#4ea72e" stroke-width="1.9" fill="none"/>
<text x="780.2" y="174" class="t" textLength="29.0" lengthAdjust="spacingAndGlyphs">2023</text>
<line x1="735" x2="777" y1="209" y2="209" stroke="#800080" stroke-width="2"/>
<circle cx="756.0" cy="209.0" r="3.1" fill="#800080"/>
<text x="780.2" y="214" class="t" textLength="28.6" lengthAdjust="spacingAndGlyphs">2024</text>
<line x1="736.5" x2="776.3" y1="248.5" y2="248.5" stroke="#0000ff" stroke-width="3" stroke-linecap="round"/>
<rect x="753.5" y="245.5" width="5" height="5" fill="#66ffff" stroke="#0000ff" stroke-width="1"/>
<text x="780.2" y="254.0" class="t" textLength="29.0" lengthAdjust="spacingAndGlyphs">2025</text>
<text x="111.5" y="366.9" class="t" text-anchor="end" textLength="27.8" lengthAdjust="spacingAndGlyphs">0.00</text>
<text x="111.5" y="326.5" class="t" text-anchor="end" textLength="27.8" lengthAdjust="spacingAndGlyphs">0.50</text>
<text x="111.5" y="286.1" class="t" text-anchor="end" textLength="27.8" lengthAdjust="spacingAndGlyphs">1.00</text>
<text x="111.5" y="245.7" class="t" text-anchor="end" textLength="27.8" lengthAdjust="spacingAndGlyphs">1.50</text>
<text x="111.5" y="205.2" class="t" text-anchor="end" textLength="27.8" lengthAdjust="spacingAndGlyphs">2.00</text>
<text x="111.5" y="164.8" class="t" text-anchor="end" textLength="27.8" lengthAdjust="spacingAndGlyphs">2.50</text>
<text x="111.5" y="124.4" class="t" text-anchor="end" textLength="27.8" lengthAdjust="spacingAndGlyphs">3.00</text>
<text x="134.6" y="385" class="t" text-anchor="middle" textLength="7.6" lengthAdjust="spacingAndGlyphs">1</text>
<text x="167.3" y="385" class="t" text-anchor="middle" textLength="7.6" lengthAdjust="spacingAndGlyphs">4</text>
<text x="200.1" y="385" class="t" text-anchor="middle" textLength="7.6" lengthAdjust="spacingAndGlyphs">7</text>
<text x="232.8" y="385" class="t" text-anchor="middle" textLength="15.6" lengthAdjust="spacingAndGlyphs">10</text>
<text x="265.6" y="385" class="t" text-anchor="middle" textLength="15.6" lengthAdjust="spacingAndGlyphs">13</text>
<text x="298.3" y="385" class="t" text-anchor="middle" textLength="15.6" lengthAdjust="spacingAndGlyphs">16</text>
<text x="331.1" y="385" class="t" text-anchor="middle" textLength="15.6" lengthAdjust="spacingAndGlyphs">19</text>
<text x="363.9" y="385" class="t" text-anchor="middle" textLength="15.6" lengthAdjust="spacingAndGlyphs">22</text>
<text x="396.6" y="385" class="t" text-anchor="middle" textLength="15.6" lengthAdjust="spacingAndGlyphs">25</text>
<text x="429.4" y="385" class="t" text-anchor="middle" textLength="15.6" lengthAdjust="spacingAndGlyphs">28</text>
<text x="462.1" y="385" class="t" text-anchor="middle" textLength="15.6" lengthAdjust="spacingAndGlyphs">31</text>
<text x="494.9" y="385" class="t" text-anchor="middle" textLength="15.6" lengthAdjust="spacingAndGlyphs">34</text>
<text x="527.7" y="385" class="t" text-anchor="middle" textLength="15.6" lengthAdjust="spacingAndGlyphs">37</text>
<text x="560.4" y="385" class="t" text-anchor="middle" textLength="15.6" lengthAdjust="spacingAndGlyphs">40</text>
<text x="593.2" y="385" class="t" text-anchor="middle" textLength="15.6" lengthAdjust="spacingAndGlyphs">43</text>
<text x="625.9" y="385" class="t" text-anchor="middle" textLength="15.6" lengthAdjust="spacingAndGlyphs">46</text>
<text x="658.7" y="385" class="t" text-anchor="middle" textLength="15.6" lengthAdjust="spacingAndGlyphs">49</text>
<text x="691.4" y="385" class="t" text-anchor="middle" textLength="15.6" lengthAdjust="spacingAndGlyphs">52</text>
<text x="102" y="86" class="j" text-anchor="middle">人</text>
<text x="736.5" y="385" class="j" text-anchor="middle">週</text>
</svg>
</body></html>
